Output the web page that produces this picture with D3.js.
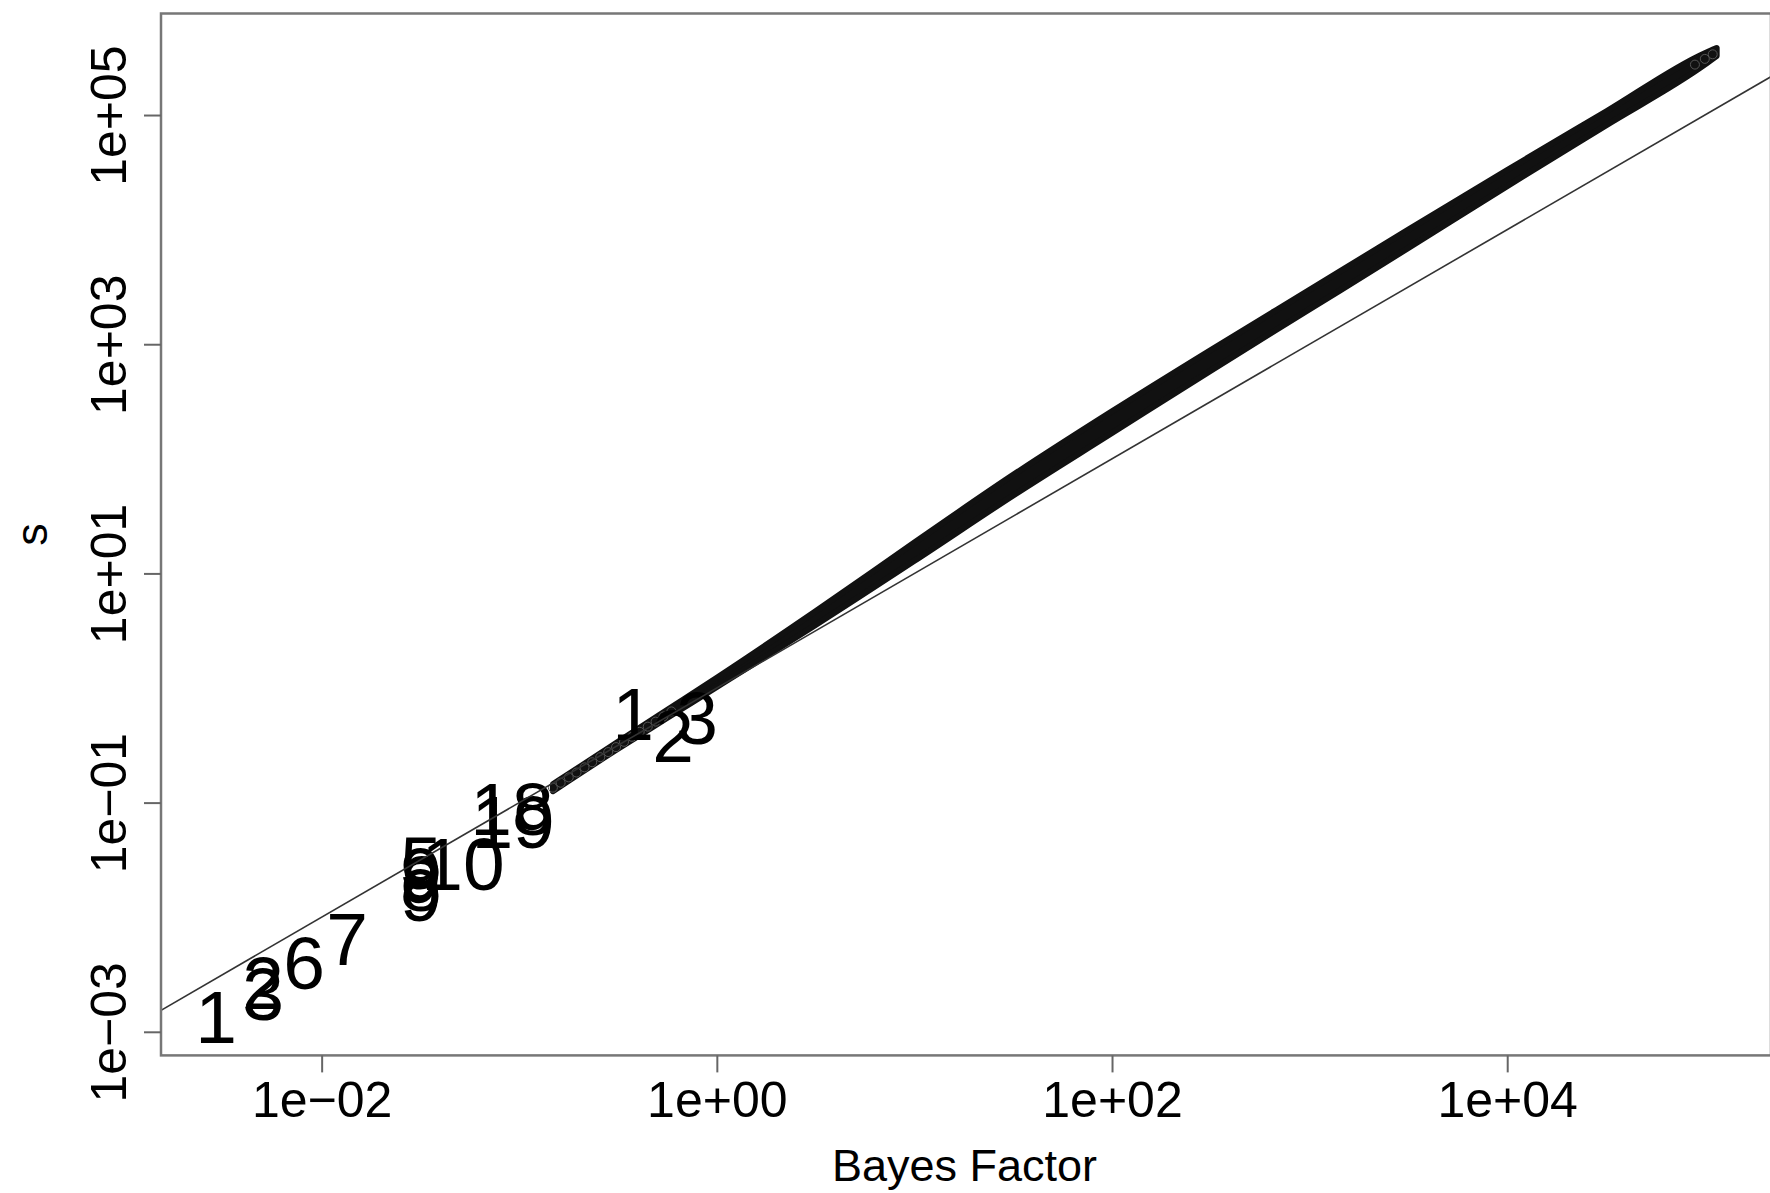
<!DOCTYPE html>
<html><head><meta charset="utf-8">
<script src="https://cdn.jsdelivr.net/npm/d3@7"></script>
<style>
body{margin:0;background:#fff}
text{font-family:"Liberation Sans",Arial,Helvetica,sans-serif;fill:#000}
</style>
</head><body>
<svg id="chart" width="1770" height="1193"></svg>
<script>
// ---- data ----
const xTickValues = [1e-2, 1e0, 1e2, 1e4];
const xTickLabels = ["1e\u221202", "1e+00", "1e+02", "1e+04"];
const yTickValues = [1e-3, 1e-1, 1e1, 1e3, 1e5];
const yTickLabels = ["1e\u221203", "1e\u221201", "1e+01", "1e+03", "1e+05"];
const xTitle = "Bayes Factor";
const yTitle = "s";

// individual open circles at the low end of the cloud and at its top end
const pointBF = [0.148, 0.162, 0.178, 0.195, 0.214, 0.234, 0.257, 0.282, 0.309, 0.339, 0.372, 0.407, 0.447, 0.490, 0.537, 0.589, 89125, 100000, 109648];
const pointS  = [0.135, 0.149, 0.166, 0.183, 0.203, 0.225, 0.249, 0.276, 0.305, 0.339, 0.375, 0.415, 0.460, 0.509, 0.565, 0.625, 275423, 309030, 338844];

// dense cloud: lower / upper edge of S at each Bayes factor
const bandBF    = [0.148, 0.3162, 0.5623, 1, 3.162, 10, 31.62, 100, 316.2, 1000, 3162, 10000, 31623, 100000, 114815];
const bandSLow  = [0.1259, 0.2951, 0.5495, 1.023, 3.548, 12.88, 47.86, 167.9, 588.8, 2018, 6918, 23988, 81283, 275423, 327341];
const bandSHigh = [0.1445, 0.3388, 0.6457, 1.230, 4.677, 18.62, 72.44, 260.0, 891.3, 2985, 10000, 33113, 107152, 346737, 384592];

// numbered labels
const labelText = ["1", "2", "3", "6", "7", "5", "9", "8", "9", "10", "18", "19", "1", "2", "3"];
const labelBF   = [0.00292, 0.00506, 0.00506, 0.00815, 0.01346, 0.0318, 0.0318, 0.0318, 0.0318, 0.0519, 0.0920, 0.0931, 0.3767, 0.600, 0.794];
const labelS    = [0.001374, 0.00272, 0.00218, 0.00406, 0.00659, 0.0303, 0.0243, 0.0195, 0.0160, 0.0297, 0.0898, 0.0691, 0.605, 0.389, 0.558];

// reference line S = BF
const refBF = [1e-4, 1e7];
const refS  = [1e-4, 1e7];

// ---- layout ----
const L = 161, R = 1771, T = 13.5, B = 1055.4;

const svg = d3.select("#chart");
const x = d3.scaleLog().domain([Math.pow(10, -2.813), Math.pow(10, 5.335)]).range([L, R]);
const y = d3.scaleLog().domain([Math.pow(10, -3.206), Math.pow(10, 5.886)]).range([B, T]);

svg.append("defs").append("clipPath").attr("id", "plotclip")
  .append("rect").attr("x", L).attr("y", T).attr("width", R - L).attr("height", B - T);

const plot = svg.append("g").attr("clip-path", "url(#plotclip)");

// dense band of points
const bandData = bandBF.map((b, i) => ({b, lo: bandSLow[i], hi: bandSHigh[i]}));
plot.append("path")
  .datum(bandData)
  .attr("d", d3.area().x(d => x(d.b)).y0(d => y(d.lo)).y1(d => y(d.hi)).curve(d3.curveMonotoneX))
  .attr("fill", "#111").attr("stroke", "#111").attr("stroke-width", 6).attr("stroke-linejoin", "round");

// open circles
plot.selectAll("circle.pt").data(pointBF.map((b, i) => [b, pointS[i]]))
  .enter().append("circle").attr("class", "pt")
  .attr("cx", d => x(d[0])).attr("cy", d => y(d[1])).attr("r", 4.5)
  .attr("fill", "none").attr("stroke", "#555").attr("stroke-width", 1);

// labels
plot.selectAll("text.lab").data(labelText.map((t, i) => ({t, b: labelBF[i], s: labelS[i]})))
  .enter().append("text").attr("class", "lab")
  .attr("x", d => x(d.b)).attr("y", d => y(d.s)).attr("dy", "0.36em")
  .attr("text-anchor", "middle").attr("font-size", 75)
  .text(d => d.t);

// reference line
plot.append("path")
  .datum(refBF.map((b, i) => [b, refS[i]]))
  .attr("d", d3.line().x(d => x(d[0])).y(d => y(d[1])))
  .attr("fill", "none").attr("stroke", "#333").attr("stroke-width", 1.6);

// box
svg.append("rect").attr("x", L).attr("y", T).attr("width", R - L).attr("height", B - T)
  .attr("fill", "none").attr("stroke", "#777").attr("stroke-width", 2.5);

// x axis
const gx = svg.append("g").attr("transform", `translate(0,${B})`)
  .call(d3.axisBottom(x).tickValues(xTickValues).tickFormat((d, i) => xTickLabels[i]).tickSize(17).tickPadding(9));
gx.select(".domain").remove();
gx.selectAll(".tick line").attr("stroke", "#666").attr("stroke-width", 2);
gx.selectAll(".tick text").attr("font-size", 50).attr("font-family", null).attr("fill", "#000");

// y axis
const gy = svg.append("g").attr("transform", `translate(${L},0)`)
  .call(d3.axisLeft(y).tickValues(yTickValues).tickFormat((d, i) => yTickLabels[i]).tickSize(17));
gy.select(".domain").remove();
gy.selectAll(".tick line").attr("stroke", "#666").attr("stroke-width", 2);
gy.selectAll(".tick text").attr("font-size", 50).attr("font-family", null).attr("fill", "#000")
  .attr("x", 0).attr("y", -35).attr("dy", 0).attr("transform", "rotate(-90)").attr("text-anchor", "middle");

// titles
svg.append("text").attr("x", (L + 1768) / 2).attr("y", 1181).attr("text-anchor", "middle")
  .attr("font-size", 45).attr("fill", "#222").text(xTitle);
svg.append("text").attr("transform", `translate(47,${(T + B) / 2}) rotate(-90)`).attr("text-anchor", "middle")
  .attr("font-size", 45).attr("fill", "#222").text(yTitle);
</script>
</body></html>
